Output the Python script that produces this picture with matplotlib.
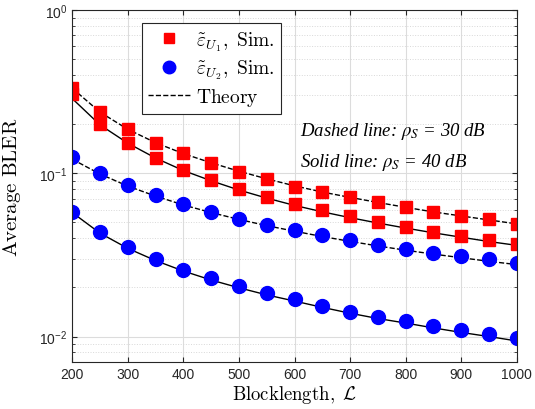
import numpy as np
import matplotlib.pyplot as plt
from matplotlib.lines import Line2D
from matplotlib.font_manager import FontProperties

plt.rcParams['font.family'] = 'Liberation Sans'
plt.rcParams['mathtext.fontset'] = 'custom'
plt.rcParams['mathtext.rm'] = 'Liberation Sans'
plt.rcParams['mathtext.it'] = 'Liberation Sans:italic'

# Blocklength values
blocklength = [200, 250, 300, 350, 400, 450, 500, 550, 600, 650, 700, 750, 800, 850, 900, 950, 1000]

# Simulated BLER, user 1 (red squares)
sim_u1_30db = [0.335, 0.238, 0.186, 0.154, 0.133, 0.116, 0.102, 0.0918, 0.0829, 0.0768, 0.0716,
               0.0667, 0.0621, 0.0582, 0.0550, 0.0522, 0.0491]
sim_u1_40db = [0.305, 0.200, 0.153, 0.124, 0.105, 0.0906, 0.0798, 0.0720, 0.0645, 0.0593, 0.0547,
               0.0505, 0.0469, 0.0439, 0.0412, 0.0390, 0.0367]
# Simulated BLER, user 2 (blue circles)
sim_u2_30db = [0.125, 0.101, 0.0844, 0.0733, 0.0645, 0.0582, 0.0527, 0.0480, 0.0449, 0.0417, 0.0388,
               0.0363, 0.0342, 0.0326, 0.0311, 0.0297, 0.0283]
sim_u2_40db = [0.0582, 0.0439, 0.0353, 0.0297, 0.0257, 0.0227, 0.0204, 0.0184, 0.0169, 0.0153, 0.0142,
               0.0132, 0.0124, 0.0116, 0.0109, 0.0104, 0.00986]

# Theory curves
theory_u1_30db = [0.332, 0.237, 0.186, 0.154, 0.132, 0.116, 0.103, 0.0925, 0.0838, 0.0768, 0.0712,
                  0.0663, 0.0619, 0.0580, 0.0548, 0.0518, 0.0490]
theory_u1_40db = [0.287, 0.198, 0.153, 0.124, 0.104, 0.0900, 0.0790, 0.0705, 0.0636, 0.0581, 0.0535,
                  0.0496, 0.0462, 0.0432, 0.0406, 0.0382, 0.0362]
theory_u2_30db = [0.122, 0.0990, 0.0835, 0.0725, 0.0640, 0.0575, 0.0522, 0.0478, 0.0442, 0.0410, 0.0383,
                  0.0359, 0.0338, 0.0320, 0.0304, 0.0289, 0.0276]
theory_u2_40db = [0.0575, 0.0430, 0.0347, 0.0292, 0.0252, 0.0222, 0.0199, 0.0180, 0.0165, 0.0151, 0.0139,
                  0.0129, 0.0121, 0.0113, 0.0106, 0.0100, 0.0094]

fig = plt.figure(figsize=(5.35, 4.1), dpi=100)
ax = fig.add_axes([0.135, 0.115, 0.831, 0.858])

ax.plot(blocklength, theory_u1_30db, 'k--', lw=1)
ax.plot(blocklength, theory_u1_40db, 'k-', lw=1)
ax.plot(blocklength, theory_u2_30db, 'k--', lw=1)
ax.plot(blocklength, theory_u2_40db, 'k-', lw=1)

ax.plot(blocklength, sim_u1_30db, 's', color='red', ms=8, mec='red')
ax.plot(blocklength, sim_u1_40db, 's', color='red', ms=8, mec='red')
ax.plot(blocklength, sim_u2_30db, 'o', color='blue', ms=10, mec='blue')
ax.plot(blocklength, sim_u2_40db, 'o', color='blue', ms=10, mec='blue')

ax.set_yscale('log')
ax.set_xlim(200, 1000)
ax.set_ylim(0.007, 1)
ax.set_xticks(np.arange(200, 1001, 100))

ax.grid(True, which='major', color='#dcdcdc', lw=0.8)
ax.grid(True, which='minor', color='#d8d8d8', lw=0.7, ls=':')
ax.tick_params(which='both', direction='in', top=True, right=True, labelsize=10,
               colors='#262626', labelcolor='#262626')
for s in ax.spines.values():
    s.set_color('#262626')
    s.set_linewidth(0.8)

ax.set_xlabel(r'$\mathrm{Blocklength,}\ \mathcal{L}$', fontsize=13.5, labelpad=2, math_fontfamily='cm')
ax.set_ylabel(r'$\mathrm{Average\ BLER}$', fontsize=15, math_fontfamily='cm')
ax.yaxis.set_label_coords(-0.11, 0.5)

handles = [
    Line2D([], [], ls='none', marker='s', color='red', ms=7),
    Line2D([], [], ls='none', marker='o', color='blue', ms=9),
    Line2D([], [], ls='--', color='k', lw=1),
]
labels = [r'$\tilde{\varepsilon}_{U_1},\ \mathrm{Sim.}$',
          r'$\tilde{\varepsilon}_{U_2},\ \mathrm{Sim.}$',
          r'$\mathrm{Theory}$']
leg = ax.legend(handles, labels, loc='upper left', bbox_to_anchor=(0.157, 0.963),
                prop=FontProperties(size=14, math_fontfamily='cm'),
                fancybox=False, framealpha=1, edgecolor='#262626',
                handlelength=2.2, handletextpad=0.3, borderpad=0.3, labelspacing=0.25,
                borderaxespad=0)
leg.get_frame().set_linewidth(0.8)

ax.text(0.512, 0.645, r'Dashed line: $\rho_S$ = 30 dB', transform=ax.transAxes,
        fontsize=13.5, family='Liberation Serif', style='italic', math_fontfamily='stix')
ax.text(0.512, 0.557, r'Solid line: $\rho_S$ = 40 dB', transform=ax.transAxes,
        fontsize=13.5, family='Liberation Serif', style='italic', math_fontfamily='stix')

fig.savefig('out.png', dpi=100)
